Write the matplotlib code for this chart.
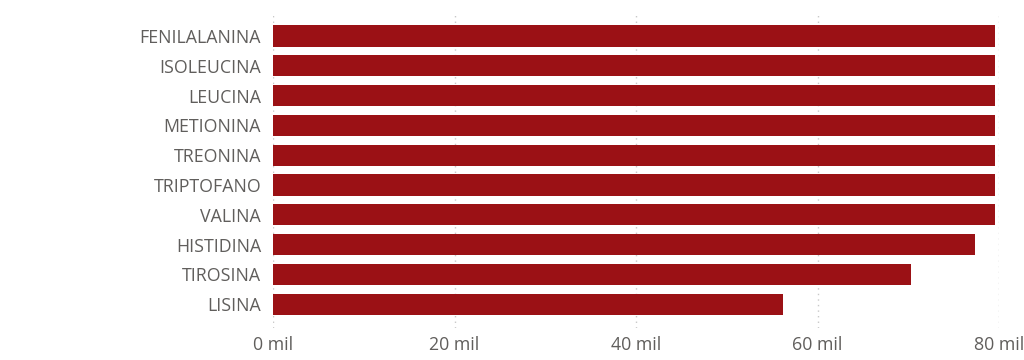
import matplotlib
matplotlib.use("Agg")
import matplotlib.pyplot as plt

categories = ["FENILALANINA", "ISOLEUCINA", "LEUCINA", "METIONINA", "TREONINA",
              "TRIPTOFANO", "VALINA", "HISTIDINA", "TIROSINA", "LISINA"]
values = [79600, 79600, 79600, 79600, 79600, 79600, 79600, 77400, 70300, 56200]
xticks = [0, 20000, 40000, 60000, 80000]
xticklabels = ["0 mil", "20 mil", "40 mil", "60 mil", "80 mil"]

plt.rcParams['font.family'] = ['Open Sans', 'DejaVu Sans']

fig = plt.figure(figsize=(10.24, 3.6), dpi=100)
ax = fig.add_axes([273/1024, (360-328)/360, (999-273)/1024, (328-13)/360])

ax.barh(range(len(categories)), values, height=0.71, color="#9B1115", zorder=3)
ax.set_yticks(range(len(categories)))
ax.set_yticklabels(categories)
ax.set_ylim(9.8, -0.77)
ax.set_xlim(0, 80000)
ax.set_xticks(xticks)
ax.set_xticklabels(xticklabels)
ax.grid(axis='x', color='#c8c8c8', linestyle=(0, (1, 3)), linewidth=1, zorder=0)
ax.tick_params(axis='y', length=0, pad=8.5, labelsize=12.8, labelcolor='#605E5C')
ax.tick_params(axis='x', length=0, pad=6, labelsize=12.8, labelcolor='#605E5C')
for s in ax.spines.values():
    s.set_visible(False)

fig.savefig("out.png", dpi=100)
